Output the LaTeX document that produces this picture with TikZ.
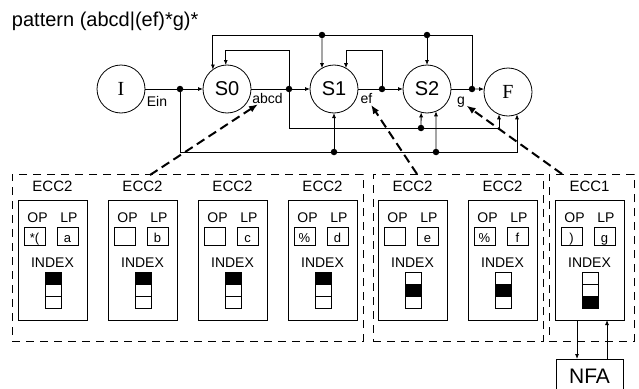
\documentclass[tikz,border=0pt]{standalone}
\usepackage{fontspec}
\setmainfont{Liberation Sans}
\newfontfamily\serifT{Liberation Serif}
\usetikzlibrary{arrows.meta}
\newcommand\eccunit[9]{%
  \node[ebox, anchor=north west] (#1) at (#2,200) {};
  \node[lab, font=\fontsize{15}{15}\selectfont, anchor=base] (#1-t) at (#2+34.5,191.5) {#3};
  \node[lab, anchor=base] (#1-opl) at (#2+19.5,222) {OP};
  \node[lab, anchor=base] (#1-lpl) at (#2+51,222) {LP};
  \node[sbox] (#1-opb) at (#2+16.5,236) {#4};
  \node[sbox] (#1-lpb) at (#2+49.5,236) {#5};
  \node[lab, anchor=base] (#1-idx) at (#2+34.5,267) {INDEX};
  \node[cell, fill=#7] (#1-c1) at (#2+35,278) {};
  \node[cell, fill=#8] (#1-c2) at (#2+35,290) {};
  \node[cell, fill=#9] (#1-c3) at (#2+35,302) {};
}
\begin{document}
\begin{tikzpicture}[x=1pt,y=-1pt,
  every node/.style={inner sep=0pt, outer sep=0pt},
  wire/.style={line width=0.8pt},
  arr/.style={-{Latex[length=5pt,width=4pt]}},
  st/.style={circle, draw, line width=0.8pt, minimum size=48pt, font=\fontsize{20}{20}\selectfont},
  sst/.style={st, font=\serifT\fontsize{20}{20}\selectfont},
  dot/.style={circle, fill=black, minimum size=6.5pt},
  lab/.style={font=\fontsize{14}{14}\selectfont},
  zoomarr/.style={line width=2pt, dash pattern=on 9pt off 5pt, -{Latex[length=9pt,width=7pt]}, shorten >=2pt},
  dbox/.style={draw, line width=0.8pt, dash pattern=on 8pt off 6pt, anchor=north west, minimum height=167pt},
  ebox/.style={draw, line width=0.8pt, minimum width=69pt, minimum height=120pt},
  sbox/.style={draw, line width=0.7pt, minimum width=21pt, minimum height=18pt, text height=12pt, text depth=0pt, font=\fontsize{13}{13}\selectfont},
  cell/.style={draw, line width=0.8pt, minimum width=16pt, minimum height=12pt}
]
\useasboundingbox (0,0) rectangle (639,388);
\clip (0,0) rectangle (639,388);

\node[anchor=base west, font=\fontsize{20}{20}\selectfont] (title) at (12,27) {pattern (abcd|(ef)*g)*};

% states
\node[sst] (I) at (121,89) {I};
\node[st] (S0) at (227,89) {S0};
\node[st] (S1) at (334,89) {S1};
\node[st] (S2) at (427,89) {S2};
\node[sst] (F) at (508,92) {F};

% junction dots
\node[dot] (d1) at (180,89) {};
\node[dot] (d2) at (289,89) {};
\node[dot] (d3) at (382,89) {};
\node[dot] (d4) at (472,89) {};
\node[dot] (t1) at (322,35) {};
\node[dot] (t2) at (427,35) {};
\node[dot] (b1) at (334,152) {};
\node[dot] (b2) at (436,152) {};
\node[dot] (c1) at (421,128) {};

% main chain
\draw[wire] (I) -- (d1);
\draw[wire,arr] (d1) -- (S0);
\draw[wire] (S0) -- (d2);
\draw[wire,arr] (d2) -- (S1);
\draw[wire] (S1) -- (d3);
\draw[wire,arr] (d3) -- (S2);
\draw[wire] (S2) -- (d4);
\draw[wire,arr] (d4) -- (F.173);

% top feedback
\draw[wire,arr] (d4) -- (d4 |- t2) -| (S0.126);
\draw[wire,arr] (t1) -- (S1.120);
\draw[wire,arr] (t2) -- (S2.north);
\draw[wire,arr] (d2) -- (d2 |- 0,50) -| (S0.93);
\draw[wire,arr] (d3) -- (d3 |- 0,50) -| (S1.60);

% bottom bypass
\draw[wire,arr] (d1) -- (d1 |- b1) -| (F.-68);
\draw[wire,arr] (b1) -- (S1.south);
\draw[wire,arr] (b2) -- (S2.-68);
\draw[wire,arr] (d2) -- (d2 |- c1) -| (F.-112);
\draw[wire,arr] (c1) -- (S2.-104.5);

% labels
\node[lab, anchor=base] (ein) at (157,106) {Ein};
\node[lab, anchor=base] (abcd) at (267.5,103) {abcd};
\node[lab, anchor=base] (ef) at (366.5,103) {ef};
\node[lab, anchor=base] (g) at (461,104) {g};

% groups
\node[dbox, minimum width=351pt] (grp1) at (12,174) {};
\node[dbox, minimum width=170pt] (grp2) at (373,174) {};
\node[dbox, minimum width=85pt] (grp3) at (549,174) {};

\coordinate (z1) at (150,175);
\coordinate (z2) at (417,174);
\coordinate (z3) at (562,174);
\draw[zoomarr] (z1) -- (abcd);
\draw[zoomarr] (z2) -- (ef);
\draw[zoomarr] (z3) -- (g);

% ECC units
\eccunit{e1}{18}{ECC2}{*(}{a}{}{black}{white}{white}
\eccunit{e2}{108}{ECC2}{}{b}{}{black}{white}{white}
\eccunit{e3}{198}{ECC2}{}{c}{}{black}{white}{white}
\eccunit{e4}{288}{ECC2}{\%}{d}{}{black}{white}{white}
\eccunit{e5}{378}{ECC2}{}{e}{}{white}{black}{white}
\eccunit{e6}{468}{ECC2}{\%}{f}{}{white}{black}{white}
\eccunit{e7}{555}{ECC1}{)}{g}{}{white}{white}{black}

% NFA
\node[draw, line width=0.8pt, anchor=north west, minimum width=67pt, minimum height=35pt, font=\fontsize{21}{21}\selectfont] (nfa) at (556,359) {NFA};
\draw[wire,arr] ([xshift=22pt]e7.south west) -- ([xshift=21pt]nfa.north west);
\draw[wire,arr] ([xshift=51pt]nfa.north west) -- ([xshift=52pt]e7.south west);
\end{tikzpicture}
\end{document}
